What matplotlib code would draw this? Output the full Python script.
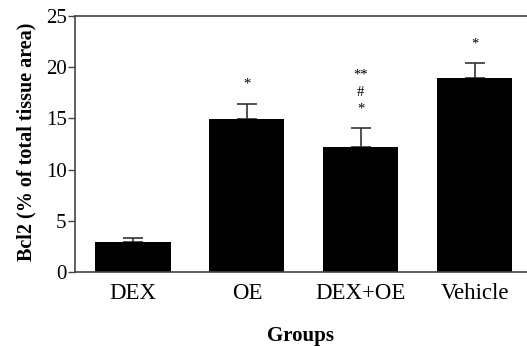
import matplotlib
matplotlib.use("Agg")
import matplotlib.pyplot as plt

groups = ["DEX", "OE", "DEX+OE", "Vehicle"]
bcl2 = [2.9, 14.9, 12.2, 18.9]
sem = [0.45, 1.55, 1.85, 1.55]
marks = ["", "*", "**\n#\n*", "*"]

plt.rcParams["font.family"] = ["Liberation Serif", "DejaVu Serif"]

fig = plt.figure(figsize=(5.27, 3.46), dpi=100)
ax = fig.add_axes([0.1423, 0.2139, 0.8577, 0.7399])

x = range(len(groups))
ax.bar(x, bcl2, width=0.66, color="black", zorder=2)
ax.errorbar(x, bcl2, yerr=[[0] * len(sem), sem], fmt="none", ecolor="#333333",
            elinewidth=1.2, capsize=7, capthick=1.2, zorder=1)

for i, (v, e, m) in enumerate(zip(bcl2, sem, marks)):
    if m:
        ax.annotate(m, (i, v + e), xytext=(0, 9), textcoords="offset points",
                    ha="center", va="bottom", fontsize=10.5, linespacing=1.4)

ax.set_xlim(-0.51, 3.46)
ax.set_ylim(0, 25)
ax.set_yticks([0, 5, 10, 15, 20, 25])
ax.set_xticks(list(x))
ax.set_xticklabels(groups)

for s in ["left", "top", "bottom"]:
    ax.spines[s].set_color("#444444")
    ax.spines[s].set_linewidth(1.2)
ax.spines["right"].set_visible(False)

ax.tick_params(axis="y", length=5, width=1, color="#444444", labelsize=15, pad=1)
ax.tick_params(axis="x", length=0, labelsize=16.5, pad=8)

ax.set_ylabel("Bcl2 (% of total tissue area)", fontsize=14.5, fontweight="bold")
ax.yaxis.set_label_coords(-0.085, 0.51)
ax.set_xlabel("Groups", fontsize=15, fontweight="bold")
ax.xaxis.set_label_coords(0.5, -0.21)

fig.savefig("out.png", dpi=100)
